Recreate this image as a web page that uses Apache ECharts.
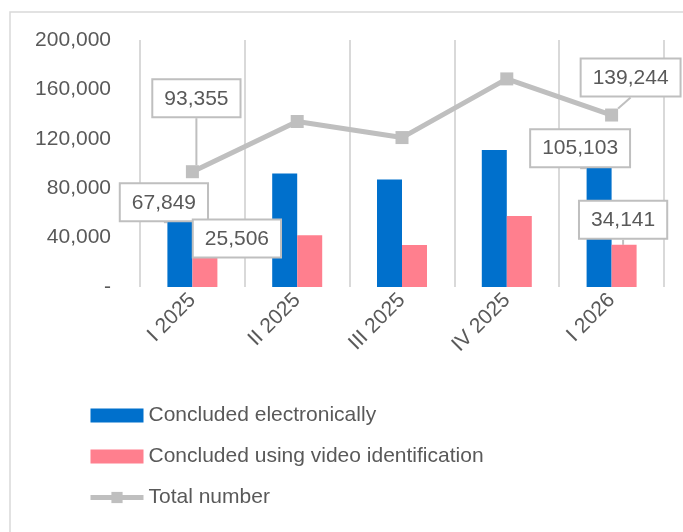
<!DOCTYPE html>
<html>
<head>
<meta charset="utf-8">
<script src="https://cdn.jsdelivr.net/npm/echarts@6/dist/echarts.min.js"></script>
<style>
html,body{margin:0;padding:0;background:#fff;}
#chart{width:683px;height:532px;}
</style>
</head>
<body>
<div id="chart"></div>
<script>
const categories = ['I 2025', 'II 2025', 'III 2025', 'IV 2025', 'I 2026'];
const electronic = [67849, 92000, 87000, 111000, 105103];
const video = [25506, 42000, 34000, 57500, 34141];
const total = [93355, 134000, 121000, 168500, 139244];
const labeled = [0, 4];
const yTicks = [0, 40000, 80000, 120000, 160000, 200000];

const FONT = 'Liberation Sans';
const TXT = '#595959';
const fmt = v => v === 0 ? '-' : v.toLocaleString('en-US');

const labelBox = {
  show: true,
  position: 'top',
  distance: 5,
  formatter: p => fmt(p.value),
  fontFamily: FONT, fontSize: 21, color: TXT,
  backgroundColor: '#fff',
  borderColor: '#BFBFBF', borderWidth: 2,
  padding: [8, 11, 7, 11]
};
const toItems = arr => arr.map((v, i) => labeled.includes(i) ? {value: v, label: labelBox} : {value: v});

// label offsets (pixels) per series per data index
const shifts = {
  0: {0: [-16, 22], 4: [-19, 14]},
  1: {0: [32, 6], 4: [-1, -2]},
  2: {0: [4, -44], 4: [19, -8]}
};
const layout = p => {
  const s = shifts[p.seriesIndex] && shifts[p.seriesIndex][p.dataIndex];
  return s ? {dx: s[0], dy: s[1]} : {};
};
const guide = {show: true, lineStyle: {color: '#BFBFBF', width: 2}};

const chart = echarts.init(document.getElementById('chart'));
chart.setOption({
  animation: false,
  textStyle: {fontFamily: FONT},
  graphic: [{
    type: 'rect', shape: {x: 10, y: 12, width: 720, height: 600},
    style: {fill: 'none', stroke: '#D9D9D9', lineWidth: 1.5}, z: -10
  }],
  grid: {left: 140, right: 19, top: 40, bottom: 245},
  legend: {
    orient: 'vertical', left: 88, top: 405, padding: 0,
    itemWidth: 53, itemHeight: 14, itemGap: 20,
    textStyle: {fontFamily: FONT, fontSize: 21, color: TXT},
    data: [
      {name: 'Concluded electronically', icon: 'rect'},
      {name: 'Concluded using video identification', icon: 'rect'},
      {name: 'Total number', lineStyle: {width: 5, color: '#BFBFBF'}}
    ]
  },
  xAxis: {
    type: 'category', data: categories,
    axisLine: {show: false}, axisTick: {show: false},
    splitLine: {show: true, interval: 0, lineStyle: {color: '#D9D9D9', width: 2}},
    axisLabel: {rotate: 45, margin: 10, interval: 0, fontFamily: FONT, fontSize: 21, color: TXT}
  },
  yAxis: {
    type: 'value', min: yTicks[0], max: yTicks[yTicks.length - 1], interval: 40000,
    splitLine: {show: false}, axisLine: {show: false}, axisTick: {show: false},
    axisLabel: {margin: 29, formatter: fmt, fontFamily: FONT, fontSize: 21, color: TXT}
  },
  series: [
    {name: 'Concluded electronically', type: 'bar', data: toItems(electronic),
     barWidth: 25, barGap: '0%', itemStyle: {color: '#0070CC'},
     labelLayout: layout, labelLine: guide, z: 2},
    {name: 'Concluded using video identification', type: 'bar', data: toItems(video),
     barWidth: 25, barGap: '0%', itemStyle: {color: '#FF7F8E'},
     labelLayout: layout, labelLine: guide, z: 2},
    {name: 'Total number', type: 'line', data: toItems(total),
     symbol: 'rect', symbolSize: 13,
     lineStyle: {color: '#BFBFBF', width: 5}, itemStyle: {color: '#BFBFBF'},
     labelLayout: layout, labelLine: guide, z: 3}
  ]
});
</script>
</body>
</html>
